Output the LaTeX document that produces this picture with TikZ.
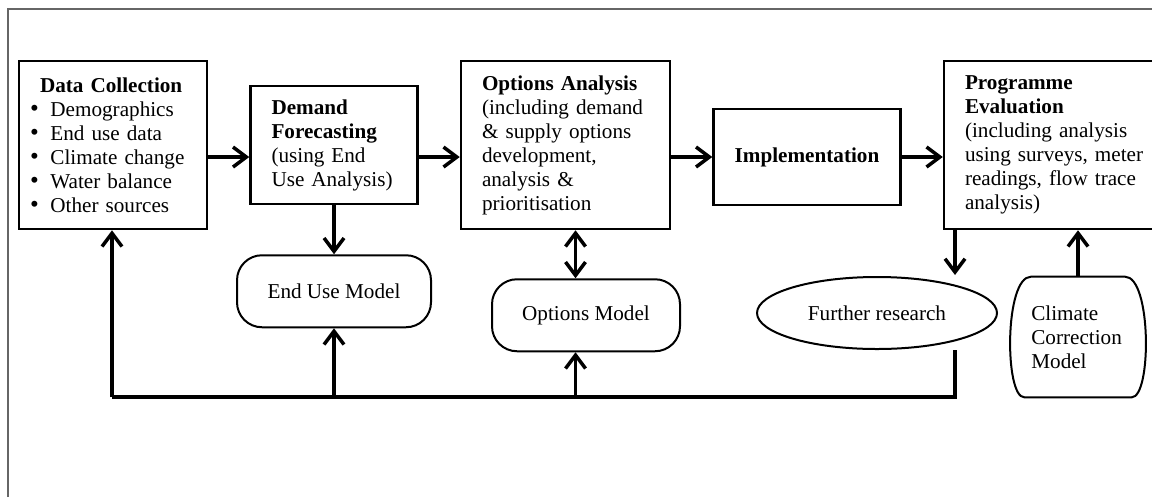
\documentclass[tikz,border=0pt]{standalone}
\usepackage{fontspec}
\setmainfont{Liberation Serif}
\usetikzlibrary{shapes,arrows.meta,calc,positioning}
\newcommand{\diagfont}{\fontsize{12.7}{14.4}\selectfont}
\newcommand{\dcitem}{\smash{\fontsize{15}{14.4}\selectfont\textbullet}\hspace{7pt}}
\tikzset{
    block/.style = {draw, rectangle, line width=1.5pt,
        inner xsep=12.6pt, inner ysep=0pt,
        align=left, font=\diagfont},
    model/.style = {draw, rectangle, rounded corners=15pt, line width=1.2pt,
        minimum width=114pt, minimum height=43.2pt, font=\diagfont},
    flow/.style = {->, line width=2.1pt},
}

\begin{document}
\begin{tikzpicture}[x=0.6pt, y=-0.6pt, node distance=24.6pt,
    >={Straight Barb[length=8pt,width=12pt]}]
		\useasboundingbox (0,0) rectangle (1152,497);
		% frame
		\draw [gray!80!black, line width=0.9pt] (8,497) -- (8,9) -- (1152,9);
		
		% top row
		\node [block, text width=99.6pt, inner xsep=6.6pt, minimum height=100.8pt] (dc) at (113,145)
		  {\hspace*{6pt}\textbf{Data Collection}\\
		   \dcitem Demographics\\
		   \dcitem End use data\\
		   \dcitem Climate change\\
		   \dcitem Water balance\\
		   \dcitem Other sources};
		
		\node [block, text width=75pt, minimum height=70.8pt, right=of dc] (df)
		  {\textbf{Demand}\\ \textbf{Forecasting}\\ (using End\\ Use Analysis)};
		
		\node [block, text width=100.2pt, minimum height=100.8pt, right=of df] (oa)
		  {\textbf{Options Analysis}\\ (including demand\\ \& supply options\\ development,\\ analysis \&\\ prioritisation};
		
		\node [block, align=center, minimum width=112.2pt, minimum height=57.6pt,
		  right=of oa, yshift=-7.2pt] (impl) {\textbf{Implementation}};
		
		\node [block, text width=113.4pt, minimum height=100.8pt,
		  right=of impl, yshift=7.2pt] (pe)
		  {\textbf{Programme}\\ \textbf{Evaluation}\\ (including analysis\\ using surveys, meter\\ readings, flow trace\\ analysis)};
		
		% models
		\node [model, minimum width=116.4pt, below=29.4pt of df] (eum) {End Use Model};
		\node [model, minimum width=112.8pt, below=28.8pt of oa, xshift=12.3pt] (om) {Options Model};
		\node [draw, ellipse, line width=1.2pt, minimum width=144pt, minimum height=43.2pt,
		  font=\diagfont] (fr) at (877,313) {Further research};
		\node [align=left, text width=56pt, inner xsep=14pt, minimum height=72pt,
		  font=\diagfont] (ccm) at (1078,337) {Climate\\ Correction\\ Model};
		\draw [line width=1.2pt] ([xshift=14pt]ccm.north west) -- ([xshift=-14pt]ccm.north east)
		  .. controls ([xshift=2pt]ccm.north east) and ([xshift=2pt]ccm.south east) .. ([xshift=-10pt]ccm.south east)
		  -- ([xshift=10pt]ccm.south west)
		  .. controls ([xshift=-2pt]ccm.south west) and ([xshift=-2pt]ccm.north west) .. ([xshift=14pt]ccm.north west)
		  -- cycle;
		
		\coordinate (frin) at (955,275);
		\coordinate (frout) at (955,350);
		\coordinate (bus) at (112,397);
		
		%% connecting lines
		\draw [flow] (dc.east |- impl.west) -- (df.west |- impl.west);
		\draw [flow] (df.east |- impl.west) -- (oa.west |- impl.west);
		\draw [flow] (oa.east |- impl.west) -- (impl.west);
		\draw [flow] (impl.east) -- (pe.west |- impl.east);
		
		\draw [flow] (df.south) -- (df.south |- eum.north);
		\draw [flow, <->] ([xshift=-6.3pt]om.north |- oa.south) -- ([xshift=-6.3pt]om.north);
		\draw [flow] (frin |- pe.south) -- (frin);
		\draw [flow] (ccm.north) -- (ccm.north |- pe.south);
		
		% feedback bus
		\draw [line width=2.1pt] (frout) |- (bus);
		\draw [flow] (bus) -- (bus |- dc.south);
		\draw [flow] (bus -| eum.south) -- (eum.south);
		\draw [flow] ([xshift=-6.3pt]bus -| om.south) -- ([xshift=-6.3pt]om.south);

	\end{tikzpicture}
\end{document}
